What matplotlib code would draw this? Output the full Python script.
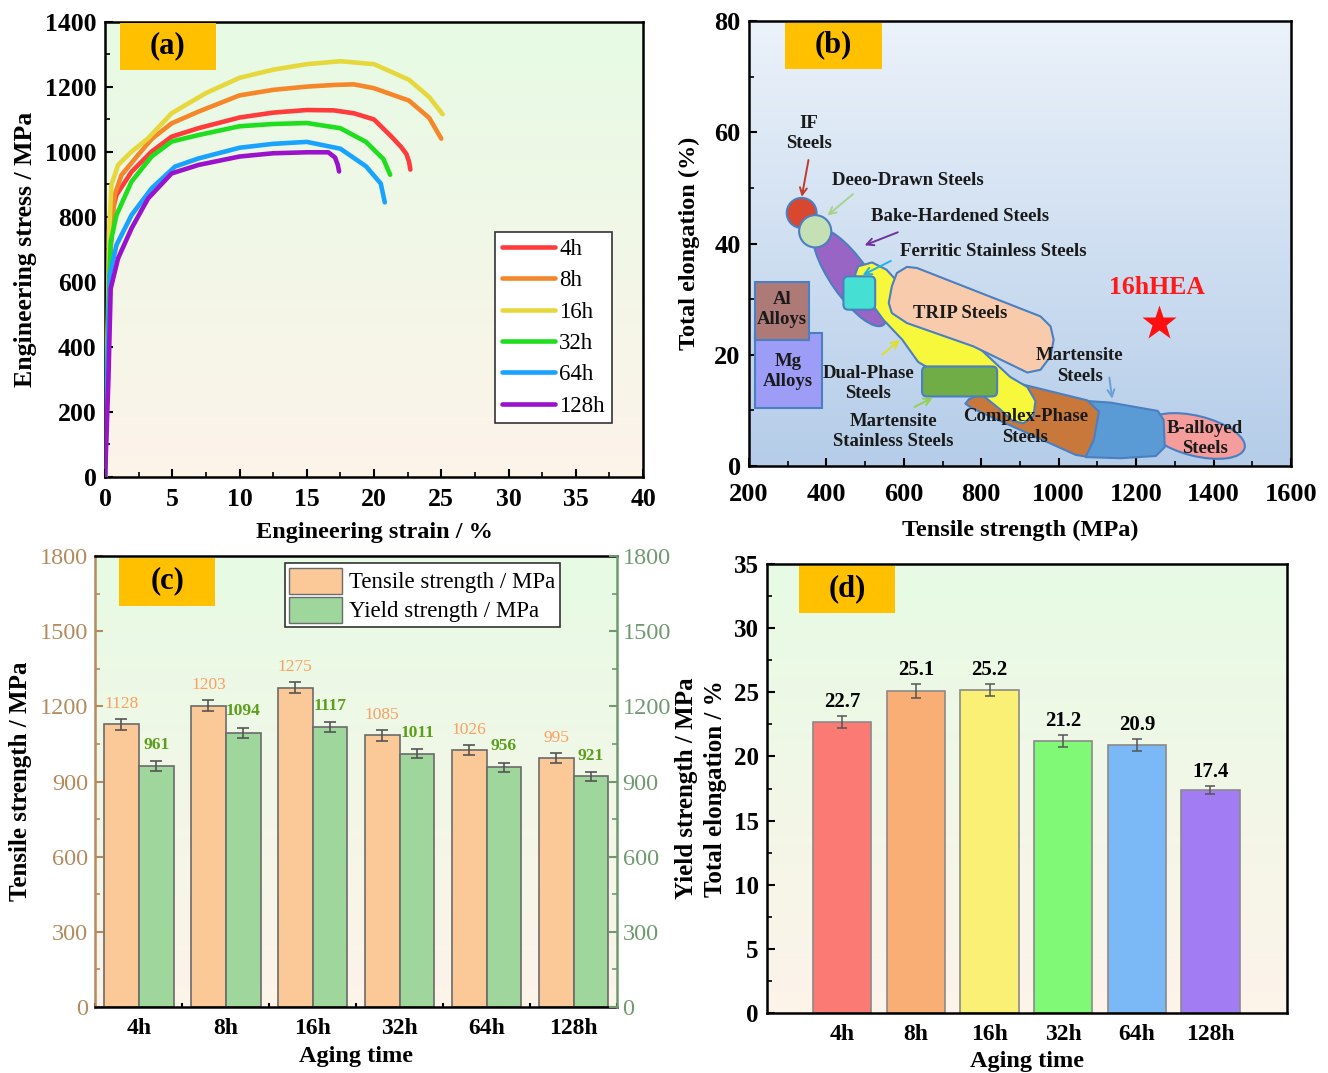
import numpy as np
import matplotlib
matplotlib.use("Agg")
import matplotlib.pyplot as plt
from matplotlib.patches import Ellipse, FancyBboxPatch, Polygon, Rectangle, Patch
from matplotlib.colors import LinearSegmentedColormap
from matplotlib.transforms import Affine2D
from matplotlib.ticker import MultipleLocator

plt.rcParams["font.family"] = ["Liberation Serif", "DejaVu Serif"]
plt.rcParams["font.weight"] = "bold"
plt.rcParams["axes.labelweight"] = "bold"
plt.rcParams["axes.linewidth"] = 1.8
plt.rcParams["xtick.direction"] = "in"
plt.rcParams["ytick.direction"] = "in"

# ---------------- data ----------------
aging = ["4h", "8h", "16h", "32h", "64h", "128h"]

# (a) engineering stress-strain curves
strain_4h = [0, 0.2, 0.35, 0.6, 0.85, 1.97, 3.46, 4.95, 6.94, 10, 12.5, 15, 17, 18.5, 20, 21.3, 22.0, 22.4, 22.6, 22.7]
stress_4h = [0, 400, 650, 826, 867, 938, 1000, 1046, 1072, 1105, 1120, 1128, 1127, 1118, 1099, 1046, 1015, 993, 970, 945]
strain_8h = [0, 0.2, 0.35, 0.72, 1.22, 2.46, 3.5, 4.95, 6.94, 10, 12.5, 15, 17, 18.5, 20, 22.6, 24.1, 25.0]
stress_8h = [0, 420, 680, 867, 928, 990, 1040, 1087, 1123, 1173, 1190, 1200, 1205, 1207, 1195, 1157, 1104, 1040]
strain_16h = [0, 0.2, 0.3, 0.47, 0.97, 1.97, 3.2, 4.95, 7.5, 10, 12.5, 15, 17.5, 20, 22.6, 24.1, 25.1]
stress_16h = [0, 450, 750, 898, 959, 1000, 1041, 1118, 1180, 1227, 1252, 1269, 1278, 1269, 1221, 1168, 1115]
strain_32h = [0, 0.2, 0.3, 0.42, 0.85, 1.97, 3.46, 4.95, 6.94, 10, 12.5, 15, 17.5, 19.4, 20.7, 21.2]
stress_32h = [0, 400, 600, 723, 805, 908, 985, 1031, 1051, 1078, 1085, 1088, 1072, 1030, 977, 929]
strain_64h = [0, 0.2, 0.35, 0.85, 1.97, 3.46, 5.2, 6.94, 10, 12.5, 15, 17.5, 19.4, 20.5, 20.8]
stress_64h = [0, 380, 620, 713, 805, 887, 954, 979, 1012, 1024, 1030, 1009, 955, 902, 844]
strain_128h = [0, 0.25, 0.42, 0.97, 1.97, 3.2, 4.95, 6.94, 10, 12.5, 15, 16.6, 17.1, 17.3, 17.4]
stress_128h = [0, 300, 579, 672, 764, 856, 933, 959, 985, 995, 998, 998, 982, 960, 939]
curve_colors = ["#ff3b3b", "#f5862a", "#e6d83c", "#1ede1e", "#19a3ff", "#9b12cc"]

# (b) property regions (tensile strength MPa, total elongation %)
al_box = [215, 356, 22.7, 33.0]
mg_box = [215, 388, 10.4, 23.9]
ferritic_box = [444, 526, 28.1, 34.1]
mart_stainless_box = [647, 841, 12.5, 17.9]
if_circle = [336, 45.5, 77, 5.4]          # centre x, centre y, width, height
deep_drawn_circle = [371, 42.2, 83, 5.8]
bake_ellipse_centre = (461, 33.9)
b_alloyed_centre = (1355, 5.4)
dual_phase_x = [482, 518, 555, 591, 668, 772, 875, 919, 940, 935, 909, 881, 850, 811, 746, 681, 637, 596, 547, 521, 492, 474]
dual_phase_y = [35.9, 36.6, 35.3, 32.6, 28.1, 22.7, 16.0, 14.2, 11.7, 9.0, 7.7, 8.1, 10.1, 12.3, 14.6, 16.9, 18.7, 22.7, 26.3, 28.8, 31.7, 34.4]
trip_x = [569, 582, 608, 634, 953, 979, 987, 979, 953, 919, 780, 608, 569, 561]
trip_y = [32.3, 34.7, 35.8, 35.6, 26.9, 25.1, 22.7, 19.7, 17.3, 16.8, 21.5, 25.7, 27.5, 29.3]
complex_x = [768, 875, 1074, 1104, 1091, 1070, 1044, 776, 759]
complex_y = [12.0, 15.2, 11.8, 9.8, 4.7, 1.7, 2.0, 10.4, 11.2]
martensite_x = [1070, 1134, 1256, 1271, 1274, 1251, 1160, 1070]
martensite_y = [11.7, 11.4, 9.9, 8.3, 3.4, 1.8, 1.4, 1.6]
region_labels = ["IF\nSteels", "Deeo-Drawn Steels", "Bake-Hardened Steels", "Ferritic Stainless Steels",
                 "Al\nAlloys", "Mg\nAlloys", "TRIP Steels", "Dual-Phase\nSteels",
                 "Martensite\nStainless Steels", "Complex-Phase\nSteels", "Martensite\nSteels", "B-alloyed\nSteels"]
label_x = [355, 611, 746, 831, 285, 301, 746, 508, 573, 914, 1054, 1378]
label_y = [59.8, 51.4, 44.9, 38.6, 28.1, 17.0, 27.4, 14.8, 6.2, 7.0, 18.0, 5.0]
arrow_tail = [(355, 55.5), (474, 49.2), (591, 42.2), (573, 37.1), (539, 19.7), (621, 10.4), (1130, 16.4)]
arrow_head = [(335, 47.9), (397, 44.7), (492, 39.5), (487, 34.1), (595, 23.0), (681, 12.5), (1139, 11.6)]
arrow_colors = ["#c0392b", "#a9d18e", "#7030a0", "#1fb4e8", "#e0e020", "#92d050", "#6a9fd8"]
hea_strength = 1260
hea_elongation = 25.7

# (c) strengths
tensile = [1128, 1203, 1275, 1085, 1026, 995]
tensile_err = [22, 23, 23, 22, 20, 20]
yield_s = [961, 1094, 1117, 1011, 956, 921]
yield_err = [21, 21, 21, 19, 19, 17]

# (d) elongation
elong = [22.7, 25.1, 25.2, 21.2, 20.9, 17.4]
elong_err = [0.47, 0.53, 0.47, 0.44, 0.44, 0.29]
elong_colors = ["#fb7b74", "#f9ae76", "#f9f075", "#80f977", "#7ab9f6", "#a17cf2"]


fig = plt.figure(figsize=(13.28, 10.73), dpi=100)


def gradient(ax, top, bottom):
    cmap = LinearSegmentedColormap.from_list("bg", [top, bottom])
    ax.imshow(np.linspace(0, 1, 256)[:, None], cmap=cmap, aspect="auto",
              extent=(0, 1, 0, 1), transform=ax.transAxes, zorder=0)


def tag(ax, text, x0, w, y0):
    ax.add_patch(Rectangle((x0, y0), w, 1 - y0 - 0.004, transform=ax.transAxes,
                           facecolor="#ffc000", edgecolor="none", zorder=6))
    ax.text(x0 + w / 2, (1 + y0) / 2, text, transform=ax.transAxes, ha="center",
            va="center", fontsize=22, zorder=7)


def ticks(ax, size=18.5, pad=6):
    ax.tick_params(which="major", length=6, width=1.5, labelsize=size, pad=pad)
    ax.tick_params(which="minor", length=3.5, width=1.2)


# ---------------- (a) ----------------
ax_a = fig.add_axes([0.0791, 0.5556, 0.4051, 0.4243])
gradient(ax_a, "#e6fbe4", "#fdf3ea")
curves = [(strain_4h, stress_4h), (strain_8h, stress_8h), (strain_16h, stress_16h),
          (strain_32h, stress_32h), (strain_64h, stress_64h), (strain_128h, stress_128h)]
for (sx, sy), lab, col in zip(curves, aging, curve_colors):
    ax_a.plot(sx, sy, color=col, lw=3.3, label=lab, solid_capstyle="round",
              solid_joinstyle="round", zorder=3)
ax_a.set_xlim(0, 40)
ax_a.set_ylim(0, 1400)
ax_a.xaxis.set_major_locator(MultipleLocator(5))
ax_a.xaxis.set_minor_locator(MultipleLocator(2.5))
ax_a.yaxis.set_major_locator(MultipleLocator(200))
ax_a.yaxis.set_minor_locator(MultipleLocator(100))
ticks(ax_a)
ax_a.tick_params(axis="x", pad=8)
ax_a.set_xlabel("Engineering strain / %", fontsize=17.5, labelpad=8)
ax_a.set_ylabel("Engineering stress / MPa", fontsize=18.5, labelpad=6)
leg = ax_a.legend(loc="upper left", bbox_to_anchor=(0.725, 0.538),
                  prop={"weight": "normal", "size": 16.5}, frameon=True, fancybox=False,
                  edgecolor="#333333", framealpha=1, handlelength=2.3, handletextpad=0.2,
                  labelspacing=0.45, borderpad=0.3, borderaxespad=0)
leg.get_frame().set_linewidth(1.2)
tag(ax_a, "(a)", 0.028, 0.178, 0.893)

# ---------------- (b) ----------------
ax_b = fig.add_axes([0.5640, 0.5657, 0.4081, 0.4147])
gradient(ax_b, "#ebf2fa", "#b5cde9")
ax_b.set_xlim(200, 1600)
ax_b.set_ylim(0, 80)
pos = ax_b.get_position()
kx = 1400 / (pos.width * fig.get_figwidth() * fig.dpi)
ky = 80 / (pos.height * fig.get_figheight() * fig.dpi)
iso = Affine2D().scale(kx, ky) + ax_b.transData
edge = dict(edgecolor="#4a7fc1", linewidth=1.5)


def box(b, color, z, rnd=0):
    x0, x1, y0, y1 = b
    style = "round,pad=0,rounding_size=%g" % rnd if rnd else "square,pad=0"
    ax_b.add_patch(FancyBboxPatch((x0 / kx, y0 / ky), (x1 - x0) / kx, (y1 - y0) / ky,
                                  boxstyle=style, facecolor=color, transform=iso, zorder=z, **edge))


ax_b.add_patch(Ellipse((b_alloyed_centre[0] / kx, b_alloyed_centre[1] / ky), 100, 40, angle=-14,
                       facecolor="#f59c9c", transform=iso, zorder=2, **edge))
ax_b.add_patch(Polygon(list(zip(martensite_x, martensite_y)), closed=True, facecolor="#5b9bd5",
                       joinstyle="round", zorder=2.1, **edge))
ax_b.add_patch(Polygon(list(zip(complex_x, complex_y)), closed=True, facecolor="#c8783a",
                       joinstyle="round", zorder=2.2, **edge))
ax_b.add_patch(Ellipse((bake_ellipse_centre[0] / kx, bake_ellipse_centre[1] / ky), 116, 38, angle=-55,
                       facecolor="#9865c4", transform=iso, zorder=2.3, **edge))
ax_b.add_patch(Ellipse(if_circle[:2], if_circle[2], if_circle[3], facecolor="#d9472f", zorder=2.4, **edge))
ax_b.add_patch(Ellipse(deep_drawn_circle[:2], deep_drawn_circle[2], deep_drawn_circle[3],
                       facecolor="#c5e0b4", zorder=2.5, **edge))
ax_b.add_patch(Polygon(list(zip(dual_phase_x, dual_phase_y)), closed=True, facecolor="#f7f73c",
                       joinstyle="round", zorder=2.6, **edge))
ax_b.add_patch(Polygon(list(zip(trip_x, trip_y)), closed=True, facecolor="#f8cbad",
                       joinstyle="round", zorder=2.7, **edge))
box(ferritic_box, "#45e0d3", 2.8, 5)
box(mart_stainless_box, "#70ad47", 2.9, 5)
box(mg_box, "#9d9cf7", 3.0)
box(al_box, "#ad7a78", 3.1)

for t, h, c in zip(arrow_tail, arrow_head, arrow_colors):
    ax_b.annotate("", xy=h, xytext=t, zorder=4,
                  arrowprops=dict(arrowstyle="->,head_length=0.5,head_width=0.25", color=c, lw=1.4))
for s, x, y in zip(region_labels, label_x, label_y):
    ax_b.text(x, y, s, ha="center", va="center", fontsize=13.5, color="#1a1a1a",
              linespacing=1.25, zorder=5)
ax_b.plot(hea_strength, hea_elongation, marker="*", ms=26, color="#ff1010", mec="none", zorder=5)
ax_b.text(1253, 32.1, "16hHEA", ha="center", va="center", fontsize=18.5, color="#ff1a1a", zorder=5)

ax_b.xaxis.set_major_locator(MultipleLocator(200))
ax_b.xaxis.set_minor_locator(MultipleLocator(100))
ax_b.yaxis.set_major_locator(MultipleLocator(20))
ax_b.yaxis.set_minor_locator(MultipleLocator(10))
ticks(ax_b, 19)
ax_b.tick_params(axis="x", pad=12)
ax_b.set_xlabel("Tensile strength (MPa)", fontsize=17.5, labelpad=10)
ax_b.set_ylabel("Total elongation (%)", fontsize=17.5, labelpad=10)
tag(ax_b, "(b)", 0.066, 0.179, 0.892)

# ---------------- (c) ----------------
x = np.arange(len(aging))
tan, sage = "#b28b5e", "#6f9a6f"
ax_c = fig.add_axes([0.0718, 0.0615, 0.3928, 0.4203])
gradient(ax_c, "#e6fbe4", "#fdf3ea")
err_kw = dict(ecolor="#555555", elinewidth=1.2, capthick=1.2)
ax_c.bar(x - 0.2, tensile, 0.4, yerr=tensile_err, capsize=4, color="#fbc898",
         edgecolor="#6b6b6b", linewidth=1.2, error_kw=err_kw, zorder=2)
ax_c.bar(x + 0.2, yield_s, 0.4, yerr=yield_err, capsize=4, color="#9fd69c",
         edgecolor="#6b6b6b", linewidth=1.2, error_kw=err_kw, zorder=2)
for i in range(len(aging)):
    ax_c.annotate(str(tensile[i]), (x[i] - 0.2, tensile[i] + tensile_err[i]), xytext=(0, 5),
                  textcoords="offset points", ha="center", va="bottom", fontsize=12.5,
                  fontweight="normal", color="#f9a062", zorder=5)
    ax_c.annotate(str(yield_s[i]), (x[i] + 0.2, yield_s[i] + yield_err[i]), xytext=(0, 6),
                  textcoords="offset points", ha="center", va="bottom", fontsize=12.5,
                  color="#5a9e1a", zorder=5)
ax_c.set_xlim(-0.5, 5.5)
ax_c.set_ylim(0, 1800)
ax_c.set_xticks(x)
ax_c.set_xticklabels(aging)
ax_c.xaxis.set_minor_locator(MultipleLocator(0.5))
ax_c.yaxis.set_major_locator(MultipleLocator(300))
ax_c.yaxis.set_minor_locator(MultipleLocator(150))
ax_c.tick_params(axis="x", which="major", length=6, width=2, labelsize=17, pad=8)
ax_c.tick_params(axis="x", which="minor", length=3, width=1.5)
ax_c.tick_params(axis="y", which="major", length=6, width=1.5, labelsize=17.5, pad=5,
                 colors=tan, labelcolor=tan)
ax_c.tick_params(axis="y", which="minor", length=3.5, width=1.2, colors=tan)
for lbl in ax_c.get_yticklabels():
    lbl.set_fontweight("normal")
ax_c.spines["left"].set_color(tan)
ax_c.spines["right"].set_visible(False)
ax_c.set_xlabel("Aging time", fontsize=17.5, labelpad=5)
ax_c.set_ylabel("Tensile strength / MPa", fontsize=18, labelpad=6)

ax_c2 = ax_c.twinx()
ax_c2.set_ylim(0, 1800)
ax_c2.yaxis.set_major_locator(MultipleLocator(300))
ax_c2.yaxis.set_minor_locator(MultipleLocator(150))
ax_c2.tick_params(axis="y", which="major", length=6, width=1.5, labelsize=17.5, pad=4,
                  colors=sage, labelcolor=sage)
ax_c2.tick_params(axis="y", which="minor", length=3.5, width=1.2, colors=sage)
for lbl in ax_c2.get_yticklabels():
    lbl.set_fontweight("normal")
ax_c2.spines["right"].set_color(sage)
for s in ("left", "top", "bottom"):
    ax_c2.spines[s].set_visible(False)
handles = [Patch(facecolor="#fbc898", edgecolor="#6b6b6b"), Patch(facecolor="#9fd69c", edgecolor="#6b6b6b")]
leg_c = ax_c2.legend(handles, ["Tensile strength / MPa", "Yield strength / MPa"], loc="upper left",
                     bbox_to_anchor=(0.363, 0.984), prop={"weight": "normal", "size": 16.5},
                     frameon=True, fancybox=False, edgecolor="#333333", framealpha=1,
                     handlelength=2.3, handleheight=1.35, handletextpad=0.3, labelspacing=0.15,
                     borderpad=0.2, borderaxespad=0)
leg_c.get_frame().set_linewidth(1.2)
tag(ax_c2, "(c)", 0.045, 0.185, 0.89)

# ---------------- (d) ----------------
ax_d = fig.add_axes([0.5776, 0.0559, 0.3916, 0.4184])
gradient(ax_d, "#e6fbe4", "#fdf3ea")
ax_d.bar(x, elong, 0.79, yerr=elong_err, capsize=3.5, color=elong_colors, edgecolor="#8a8a8a",
         linewidth=1.2, error_kw=dict(ecolor="#555555", elinewidth=1.1, capthick=1.1), zorder=2)
for i in range(len(aging)):
    ax_d.annotate("%.1f" % elong[i], (x[i], elong[i] + elong_err[i]), xytext=(0, 3),
                  textcoords="offset points", ha="center", va="bottom", fontsize=15, zorder=5)
ax_d.set_xlim(-1.02, 6.04)
ax_d.set_ylim(0, 35)
ax_d.set_xticks(x)
ax_d.set_xticklabels(aging)
ax_d.yaxis.set_major_locator(MultipleLocator(5))
ax_d.yaxis.set_minor_locator(MultipleLocator(2.5))
ticks(ax_d, 18)
ax_d.tick_params(axis="x", labelsize=17, pad=8)
ax_d.set_xlabel("Aging time", fontsize=17.5, labelpad=4)
ax_d.set_ylabel("Yield strength / MPa\nTotal elongation / %", fontsize=18, labelpad=5, linespacing=1.3)
tag(ax_d, "(d)", 0.061, 0.185, 0.891)

fig.savefig("out.png", dpi=100)
